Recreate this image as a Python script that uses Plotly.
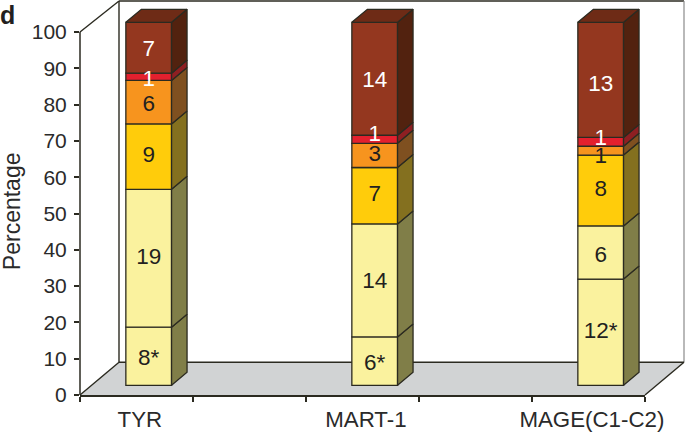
import plotly.graph_objects as go

categories = ["TYR", "MART-1", "MAGE(C1-C2)"]
tier1 = [8, 6, 12]
tier2 = [19, 14, 6]
tier3 = [9, 7, 8]
tier4 = [6, 3, 1]
tier5 = [1, 1, 1]
tier6 = [7, 14, 13]
tiers = [tier1, tier2, tier3, tier4, tier5, tier6]
tier_labels = [["8*", "6*", "12*"], None, None, None, None, None]
front_colors = ["#FAF29E", "#FAF29E", "#FFCC0B", "#F7941E", "#E3202E", "#94371F"]
side_colors = ["#807E48", "#807E48", "#84701F", "#7F5020", "#8E1F22", "#52220F"]
top_color = "#6E2B16"
text_colors = ["#231F20", "#231F20", "#231F20", "#231F20", "#FFFFFF", "#FFFFFF"]
# label nudges in percent units per tier (category order)
nudges = [[-0.8, -0.8, 0], [0, -0.5, -1], [0, 0, 0], [-0.8, 0, -1.9], [-1, 1, 0.6], [-0.8, -0.8, -1.6]]

LINE = "#2B2A20"
INK = "#2A2A2A"
FONT = "Liberation Sans"

W, H = 685, 433
L, R, T, B = 80, 40, 0, 38.3
pw, ph = W - L - R, H - T - B
px_x = pw / 5.0      # px per category unit
px_y = 362.7 / 100.0    # px per percent
y_top = ph / px_y

cat_x = [0, 2, 4]
bar_w = 45.7 / px_x
shift_x = 12.2 / px_x
shift_y = 9.7 / px_y
dx = 15.5 / px_x
dy = 13.0 / px_y

totals = [sum(t[i] for t in tiers) for i in range(3)]
pct = [[t[i] / totals[i] * 100 for i in range(3)] for t in tiers]

fig = go.Figure()
bx = [c + shift_x for c in cat_x]

cum = [shift_y] * 3
label_x, label_y, label_t, label_c = [], [], [], []
side_traces, top_xs, top_ys = [], [], []
for k, vals in enumerate(pct):
    fig.add_trace(go.Bar(x=bx, y=vals, base=list(cum), width=bar_w,
                         marker=dict(color=front_colors[k], line=dict(color=LINE, width=1.3)),
                         showlegend=False, hoverinfo="skip"))
    sx, sy = [], []
    for i in range(3):
        x1 = bx[i] + bar_w / 2
        b, t = cum[i], cum[i] + vals[i]
        sx += [x1, x1 + dx, x1 + dx, x1, x1, None]
        sy += [b, b + dy, t + dy, t, b, None]
        label_x.append(bx[i])
        label_y.append((b + t) / 2 + nudges[k][i])
        label_t.append(tier_labels[k][i] if tier_labels[k] else str(tiers[k][i]))
        label_c.append(text_colors[k])
    side_traces.append(go.Scatter(x=sx, y=sy, mode="lines", fill="toself", fillcolor=side_colors[k],
                                  line=dict(color=LINE, width=1.3),
                                  showlegend=False, hoverinfo="skip"))
    cum = [c + v for c, v in zip(cum, vals)]

for i in range(3):
    x0, x1 = bx[i] - bar_w / 2, bx[i] + bar_w / 2
    t = cum[i]
    top_xs += [x0, x1, x1 + dx, x0 + dx, x0, None]
    top_ys += [t, t, t + dy, t + dy, t, None]

for s in side_traces:
    fig.add_trace(s)
fig.add_trace(go.Scatter(x=top_xs, y=top_ys, mode="lines", fill="toself", fillcolor=top_color,
                         line=dict(color=LINE, width=1.3),
                         showlegend=False, hoverinfo="skip"))
fig.add_trace(go.Scatter(x=label_x, y=label_y, mode="text", text=label_t,
                         textfont=dict(family=FONT, size=22.5, color=label_c),
                         textposition="middle center",
                         showlegend=False, hoverinfo="skip"))


def X(p):
    return (p - L) / pw


def Y(p):
    return (H - B - p) / ph


def seg(x0, y0, x1, y1, color=LINE, width=1.4):
    return dict(type="line", xref="paper", yref="paper", layer="below",
                x0=X(x0), y0=Y(y0), x1=X(x1), y1=Y(y1), line=dict(color=color, width=width))


shapes = [
    dict(type="path", xref="paper", yref="paper", layer="below",
         path=f"M{X(80)},{Y(394.7)} L{X(645)},{Y(394.7)} L{X(684)},{Y(362)} L{X(119)},{Y(362)} Z",
         fillcolor="#D1D3D4", line=dict(width=0)),
    seg(119, 362, 119, 1),
    seg(119, 1, 684, 1),
    seg(684, 1, 684, 362, color="#8a8a8a", width=1.2),
    seg(119, 362, 684, 362),
    seg(80, 32, 119, 1),
    seg(80, 394.7, 119, 362),
    seg(645, 394.7, 684, 362),
    # value axis line, 0 to 100
    dict(type="line", xref="paper", yref="y", layer="above", x0=0, x1=0, y0=0, y1=100,
         line=dict(color=LINE, width=1.5)),
]

fig.update_layout(
    width=W, height=H,
    margin=dict(l=L, r=R, t=T, b=B, pad=0, autoexpand=False),
    paper_bgcolor="white", plot_bgcolor="rgba(0,0,0,0)",
    barmode="overlay", showlegend=False,
    font=dict(family=FONT, size=21, color=INK),
    shapes=shapes,
    xaxis=dict(range=[-0.5, 4.5], showgrid=False, zeroline=False, showline=True, automargin=False,
               linecolor=LINE, linewidth=1.5,
               tickmode="array", tickvals=[c + 0.03 for c in cat_x], ticktext=categories,
               ticks="", ticklabelstandoff=3, tickfont=dict(family=FONT, size=22.3, color=INK),
               minor=dict(tickmode="array", tickvals=[-0.5, 0.5, 1.5, 2.5, 3.5, 4.5],
                          ticks="outside", ticklen=5, tickwidth=1.5, tickcolor=LINE, showgrid=False)),
    yaxis=dict(range=[0, y_top], showgrid=False, zeroline=False, showline=False, automargin=False,
               tickmode="array", tickvals=list(range(0, 101, 10)),
               ticks="outside", ticklen=5, tickwidth=1.5, tickcolor=LINE,
               ticklabelstandoff=3, tickfont=dict(family=FONT, size=21, color=INK)),
    annotations=[
        dict(text="<b>d</b>", xref="paper", yref="paper", x=X(-2), y=Y(15),
             xanchor="left", yanchor="middle", showarrow=False,
             font=dict(family=FONT, size=25, color="#231F20")),
        dict(text="Percentage", xref="paper", yref="paper", x=X(12), y=Y(211),
             xanchor="center", yanchor="middle", showarrow=False, textangle=-90,
             font=dict(family=FONT, size=23, color=INK)),
    ],
)

fig.write_html("out.html", post_script="document.body.style.margin='0';",
               config={"displayModeBar": False})
